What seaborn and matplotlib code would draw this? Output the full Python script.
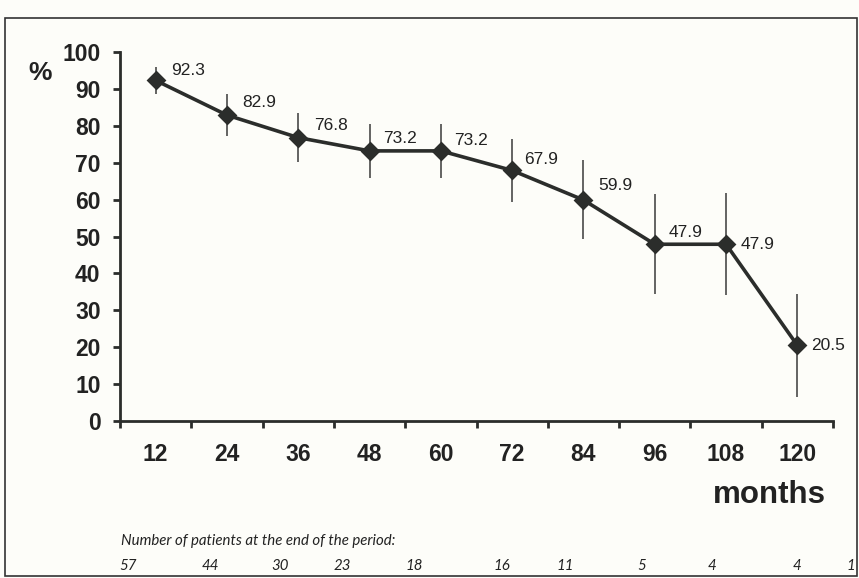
import matplotlib
matplotlib.use("Agg")
import matplotlib.pyplot as plt
import seaborn as sns
import pandas as pd
import numpy as np
from matplotlib.patches import Rectangle

months = ["12", "24", "36", "48", "60", "72", "84", "96", "108", "120"]
survival = [92.3, 82.9, 76.8, 73.2, 73.2, 67.9, 59.9, 47.9, 47.9, 20.5]
err = [3.6, 5.7, 6.7, 7.4, 7.4, 8.5, 10.7, 13.6, 13.8, 13.9]
patients = ["57", "44", "30", "23", "18", "16", "11", "5", "4", "4", "1"]
yticks = [0, 10, 20, 30, 40, 50, 60, 70, 80, 90, 100]

df = pd.DataFrame({"month": months, "pct": survival})

sns.set_style("white")
plt.rcParams["font.family"] = ["Liberation Sans", "DejaVu Sans"]

W, H = 859, 578
fig = plt.figure(figsize=(W / 100, H / 100), dpi=100)
bg = "#fdfdf9"
fig.patch.set_facecolor(bg)
ax = fig.add_axes([120 / W, 1 - 421 / H, (833 - 120) / W, (421 - 52) / H])
ax.set_facecolor(bg)

dark = "#2b2d2b"
sns.pointplot(data=df, x="month", y="pct", order=months, color=dark,
              markers="D", markersize=8, linewidth=2.6, errorbar=None, ax=ax)
xs = np.arange(len(months))
ax.errorbar(xs, survival, yerr=err, fmt="none", ecolor="#3a3a3a",
            elinewidth=1.1, capsize=0, zorder=1)

# value labels
offsets = [(15, 10), (15, 13), (16, 12), (14, 12), (13, 10), (12, 11),
           (15, 14), (14, 12), (15, 0), (14, 0)]
for x, v, (dx, dy) in zip(xs, survival, offsets):
    ax.annotate(f"{v}", (x, v), xytext=(dx, dy), textcoords="offset pixels",
                ha="left", va="center", fontsize=12.5, color="#222222")

ax.set_xlim(-0.5, len(months) - 0.5)
ax.set_ylim(0, 100)
ax.set_yticks(yticks)
ax.set_yticklabels([str(t) for t in yticks], fontsize=16.5, fontweight="bold", color="#222222")
ax.set_xticks(xs)
ax.set_xticklabels(months, fontsize=16.5, fontweight="bold", color="#222222")
ax.set_xticks(np.arange(-0.5, len(months), 1.0), minor=True)
ax.tick_params(axis="both", which="both", bottom=True, left=True)
ax.tick_params(axis="x", which="major", length=0, pad=16)
ax.tick_params(axis="x", which="minor", length=5, width=2, color=dark, direction="out")
ax.tick_params(axis="y", which="major", length=5, width=2, color=dark, direction="out", pad=9)
ax.set_xlabel("")
ax.set_ylabel("")
for s in ["top", "right"]:
    ax.spines[s].set_visible(False)
for s in ["left", "bottom"]:
    ax.spines[s].set_linewidth(2)
    ax.spines[s].set_color(dark)

fig.text(40 / W, 1 - 73 / H, "%", ha="center", va="center", fontsize=19,
         fontweight="bold", color="#222222")
fig.text(769 / W, 1 - 495 / H, "months", ha="center", va="center", fontsize=22.5,
         fontweight="bold", color="#222222")

fig.text(121 / W, 1 - 541 / H, "Number of patients at the end of the period:",
         ha="left", va="center", fontsize=10.8, style="italic",
         family="Lato", color="#222222")
px = [128, 210, 280, 342, 414, 502, 565, 642, 712, 797, 851]
for x, p in zip(px, patients):
    fig.text(x / W, 1 - 566 / H, p, ha="center", va="center", fontsize=10.8,
             style="italic", family="Lato", color="#222222")

# scanned frame
fig.patches.append(Rectangle((5 / W, 1 - 576 / H), (857 - 5) / W, (576 - 18) / H,
                             transform=fig.transFigure, fill=False,
                             edgecolor="#333333", linewidth=1.2))

fig.savefig("out.png", dpi=100, facecolor=bg)
